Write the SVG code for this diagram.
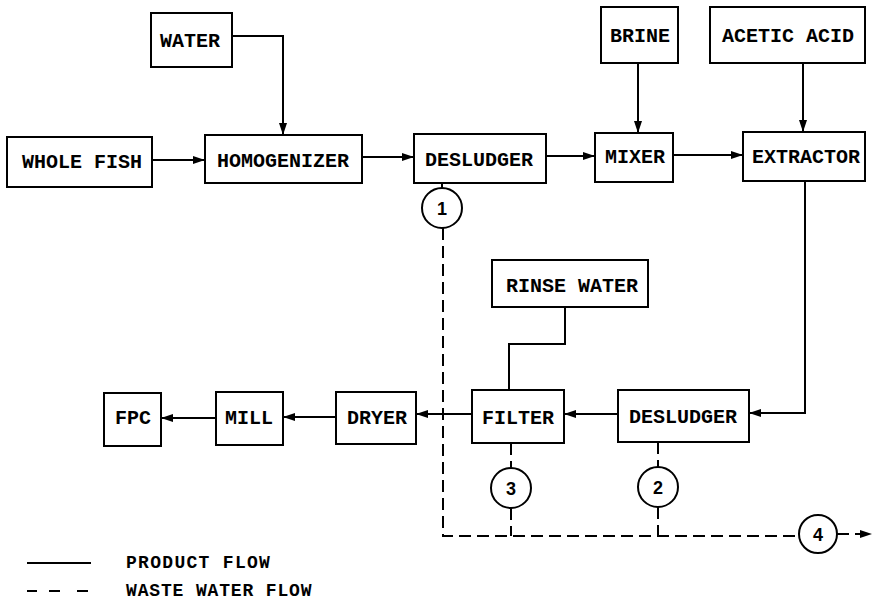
<svg xmlns="http://www.w3.org/2000/svg" width="874" height="606" viewBox="0 0 874 606">
<style>
.box{fill:#fff;stroke:#000;stroke-width:2}
.lbl{font-family:"Liberation Mono","DejaVu Sans Mono",monospace;font-weight:bold;font-size:20px;text-anchor:middle;fill:#000}
.num{font-family:"Liberation Sans",Arial,sans-serif;font-weight:bold;font-size:18px;text-anchor:middle;fill:#000}
.flow{fill:none;stroke:#000;stroke-width:2}
.arr{marker-end:url(#ah)}
.waste{fill:none;stroke:#000;stroke-width:2;stroke-dasharray:12 6}
.circ{fill:#fff;stroke:#000;stroke-width:2}
.leg{font-family:"Liberation Mono","DejaVu Sans Mono",monospace;font-weight:bold;font-size:18px;fill:#000}
</style>
<defs>
<marker id="ah" markerUnits="userSpaceOnUse" markerWidth="12" markerHeight="8" refX="12" refY="4" orient="auto">
<path d="M0,0 L12,4 L0,8 z" fill="#000"/>
</marker>
</defs>
<rect width="874" height="606" fill="#fff"/>
<g id="connectors">
<path class="flow arr" d="M232,36 H283 V135"/>
<path class="flow arr" d="M152,160 H205"/>
<path class="flow arr" d="M362,157 H414"/>
<path class="flow arr" d="M546,156 H595"/>
<path class="flow arr" d="M638,63 V133"/>
<path class="flow arr" d="M673,155 H743"/>
<path class="flow arr" d="M803,63 V132"/>
<path class="flow arr" d="M805,181 V413 H749"/>
<path class="flow" d="M565,307 V344 H509 V390"/>
<path class="flow arr" d="M618,414 H564"/>
<path class="flow arr" d="M472,414 H416"/>
<path class="flow arr" d="M336,417 H283"/>
<path class="flow arr" d="M216,418 H161"/>
<path class="flow" d="M442,182 V188"/>
<path class="waste" d="M443,228 V536 H799"/>
<path class="waste" d="M511,443 V468"/>
<path class="waste" d="M511,508 V536"/>
<path class="waste" d="M658,442 V467"/>
<path class="waste" d="M658,507 V536"/>
<path class="waste arr" d="M837,534 H872"/>
</g>
<g id="water"><rect class="box" x="151" y="13" width="81" height="54"/><text class="lbl" x="190" y="47">WATER</text></g>
<g id="whole-fish"><rect class="box" x="7" y="137" width="145" height="50"/><text class="lbl" x="82" y="168">WHOLE FISH</text></g>
<g id="homogenizer"><rect class="box" x="205" y="135" width="157" height="48"/><text class="lbl" x="283" y="167">HOMOGENIZER</text></g>
<g id="desludger1"><rect class="box" x="414" y="134" width="132" height="49"/><text class="lbl" x="479" y="166">DESLUDGER</text></g>
<g id="brine"><rect class="box" x="601" y="7" width="77" height="56"/><text class="lbl" x="640" y="42">BRINE</text></g>
<g id="mixer"><rect class="box" x="595" y="133" width="78" height="49"/><text class="lbl" x="635" y="163">MIXER</text></g>
<g id="acetic-acid"><rect class="box" x="710" y="7" width="155" height="56"/><text class="lbl" x="788" y="42">ACETIC ACID</text></g>
<g id="extractor"><rect class="box" x="743" y="132" width="122" height="49"/><text class="lbl" x="806" y="163">EXTRACTOR</text></g>
<g id="rinse-water"><rect class="box" x="492" y="260" width="156" height="47"/><text class="lbl" x="572" y="292">RINSE WATER</text></g>
<g id="filter"><rect class="box" x="472" y="390" width="92" height="53"/><text class="lbl" x="518" y="424">FILTER</text></g>
<g id="desludger2"><rect class="box" x="618" y="390" width="131" height="52"/><text class="lbl" x="683" y="423">DESLUDGER</text></g>
<g id="dryer"><rect class="box" x="336" y="392" width="80" height="52"/><text class="lbl" x="377" y="424">DRYER</text></g>
<g id="mill"><rect class="box" x="216" y="392" width="67" height="53"/><text class="lbl" x="249" y="424">MILL</text></g>
<g id="fpc"><rect class="box" x="104" y="393" width="57" height="53"/><text class="lbl" x="133" y="424">FPC</text></g>
<g id="c1"><circle class="circ" cx="442" cy="208" r="20"/><text class="num" x="442" y="215">1</text></g>
<g id="c3"><circle class="circ" cx="511" cy="488" r="20"/><text class="num" x="511" y="495">3</text></g>
<g id="c2"><circle class="circ" cx="658" cy="487" r="20"/><text class="num" x="658" y="494">2</text></g>
<g id="c4"><circle class="circ" cx="818" cy="534" r="19"/><text class="num" x="818" y="541">4</text></g>
<g id="legend">
<path class="flow" d="M27,563 H91"/>
<path class="flow" d="M27,591 H37 M49,591 H60 M77,591 H88"/>
<text class="leg" x="126" y="568" letter-spacing="1.3">PRODUCT FLOW</text>
<text class="leg" x="126" y="596" letter-spacing="0.85">WASTE WATER FLOW</text>
</g>
</svg>
